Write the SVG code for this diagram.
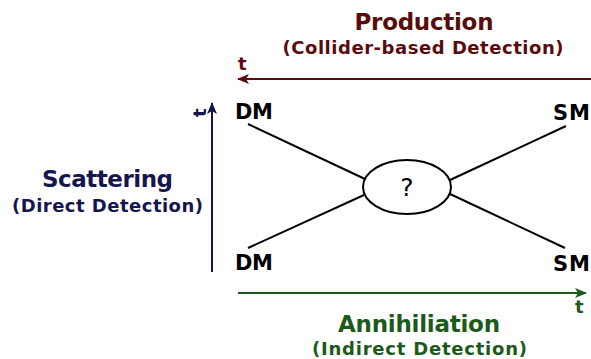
<svg xmlns="http://www.w3.org/2000/svg" width="591" height="359" viewBox="0 0 591 359">
  <defs>
    <style>
      text { font-family: "DejaVu Sans", Verdana, sans-serif; font-weight: bold; }
      .title { font-size: 23px; text-anchor: middle; }
      .sub { font-size: 18px; text-anchor: middle; }
      .lbl { font-size: 21px; fill: #000; }
      .tt { font-size: 18px; }
      .prod { fill: #5a0c0c; }
      .scat { fill: #16164f; }
      .anni { fill: #1b5a1b; }
      .line { stroke: #000; stroke-width: 2; fill: none; }
    </style>
    <marker id="arP" viewBox="0 0 12 10" refX="11" refY="5" markerWidth="12" markerHeight="10" markerUnits="userSpaceOnUse" orient="auto">
      <path d="M0,0 L12,5 L0,10 L3,5 Z" fill="#5a0c0c"/>
    </marker>
    <marker id="arS" viewBox="0 0 12 10" refX="11" refY="5" markerWidth="12" markerHeight="10" markerUnits="userSpaceOnUse" orient="auto">
      <path d="M0,0 L12,5 L0,10 L3,5 Z" fill="#16164f"/>
    </marker>
    <marker id="arA" viewBox="0 0 12 10" refX="11" refY="5" markerWidth="12" markerHeight="10" markerUnits="userSpaceOnUse" orient="auto">
      <path d="M0,0 L12,5 L0,10 L3,5 Z" fill="#1b5a1b"/>
    </marker>
  </defs>
  <rect width="591" height="359" fill="#fff"/>

  <g id="connectors">
    <line class="line" x1="248" y1="124" x2="365" y2="179"/>
    <line class="line" x1="248" y1="248" x2="364" y2="195"/>
    <line class="line" x1="566" y1="126" x2="450" y2="180"/>
    <line class="line" x1="565" y1="248" x2="450" y2="194"/>
    <line x1="591" y1="79" x2="238" y2="79" stroke="#5a0c0c" stroke-width="2" marker-end="url(#arP)"/>
    <line x1="212" y1="272" x2="212" y2="103" stroke="#16164f" stroke-width="2" marker-end="url(#arS)"/>
    <line x1="238" y1="293" x2="586" y2="293" stroke="#1b5a1b" stroke-width="2" marker-end="url(#arA)"/>
  </g>

  <g id="vertex">
    <ellipse cx="407" cy="187" rx="44" ry="27" fill="#fff" stroke="#000" stroke-width="2"/>
    <text x="407" y="196" font-size="25" text-anchor="middle" style="font-weight:normal">?</text>
  </g>

  <g id="dm-top"><text class="lbl" x="235" y="119" textLength="38">DM</text></g>
  <g id="dm-bottom"><text class="lbl" x="235" y="270" textLength="38">DM</text></g>
  <g id="sm-top"><text class="lbl" x="553" y="120" textLength="37">SM</text></g>
  <g id="sm-bottom"><text class="lbl" x="553" y="271" textLength="37">SM</text></g>

  <g id="production">
    <text class="title prod" x="424" y="30" textLength="139">Production</text>
    <text class="sub prod" x="423" y="54" textLength="281">(Collider-based Detection)</text>
    <text class="tt prod" x="238" y="70">t</text>
  </g>

  <g id="scattering">
    <text class="title scat" x="107.5" y="187" textLength="131">Scattering</text>
    <text class="sub scat" x="107.5" y="212" textLength="191">(Direct Detection)</text>
    <text class="tt scat" transform="translate(206,117) rotate(-90)">t</text>
  </g>

  <g id="annihilation">
    <text class="title anni" x="419" y="332" textLength="162">Annihiliation</text>
    <text class="sub anni" x="419.5" y="355" textLength="215">(Indirect Detection)</text>
    <text class="tt anni" x="575" y="313">t</text>
  </g>
</svg>
